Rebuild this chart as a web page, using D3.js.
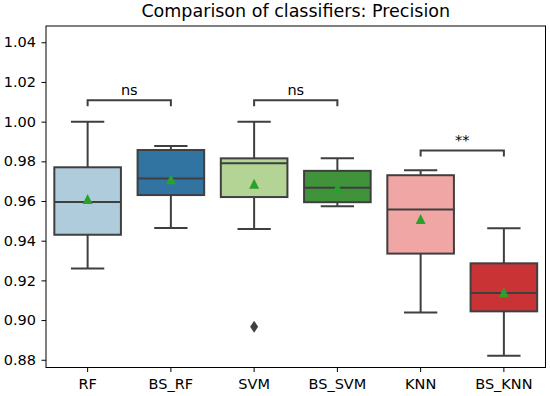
<!DOCTYPE html>
<meta charset="utf-8">
<title>Comparison of classifiers: Precision</title>
<style>
body {
  margin: 0;
  background: white;
  font-family: 'DejaVu Sans', sans-serif;
}
</style>
<svg></svg>
<script src="https://d3js.org/d3.v7.min.js"></script>
<script>
var classifiers = ["RF", "BS_RF", "SVM", "BS_SVM", "KNN", "BS_KNN"];
var colors = ["#a6cee3", "#1f78b4", "#b2df8a", "#33a02c", "#fb9a99", "#e31a1c"];
var whiskerLow = [0.926, 0.9464, 0.9459, 0.9574, 0.9038, 0.882];
var q1 = [0.943, 0.963, 0.962, 0.9594, 0.9335, 0.9044];
var median = [0.9595, 0.9714, 0.979, 0.9667, 0.9557, 0.9136];
var q3 = [0.977, 0.9857, 0.9815, 0.9752, 0.973, 0.9286];
var whiskerHigh = [1.0, 0.9877, 1.0, 0.9815, 0.9755, 0.9463];
var means = [0.961, 0.971, 0.9687, 0.9667, 0.951, 0.914];
var outliers = [[], [], [0.8966], [], [], []];
var yTicks = [0.88, 0.90, 0.92, 0.94, 0.96, 0.98, 1.00, 1.02, 1.04];
// pairs compared, bracket height, label
var pairs = [
  {a: "RF", b: "BS_RF", y: 1.0108, label: "ns"},
  {a: "SVM", b: "BS_SVM", y: 1.0108, label: "ns"},
  {a: "KNN", b: "BS_KNN", y: 0.9855, label: "**"}
];

var width = 550, height = 396,
    margin = {top: 26, right: 4.5, bottom: 28.5, left: 46};

var svg = d3.select("svg")
    .attr("width", width)
    .attr("height", height);

var x = d3.scaleBand()
    .domain(classifiers)
    .range([margin.left, width - margin.right]);

var y = d3.scaleLinear()
    .domain([0.8761, 1.0482])
    .range([height - margin.bottom, margin.top]);

var edge = "#3f3f3f";
var boxW = x.bandwidth() * 0.8;

function desat(c) {
  var h = d3.hsl(c);
  h.s *= 0.75;
  return h.formatHex();
}

var data = classifiers.map(function(c, i) {
  return {name: c, color: desat(colors[i]), lo: whiskerLow[i], q1: q1[i], med: median[i],
          q3: q3[i], hi: whiskerHigh[i], mean: means[i], out: outliers[i]};
});

// axes
svg.append("g")
    .attr("transform", "translate(0," + (height - margin.bottom) + ")")
    .call(d3.axisBottom(x).tickSize(4.5).tickPadding(7))
    .call(function(g) { g.select(".domain").remove(); });

svg.append("g")
    .attr("transform", "translate(" + margin.left + ",0)")
    .call(d3.axisLeft(y).tickValues(yTicks).tickFormat(d3.format(".2f")).tickSize(4.5).tickPadding(5.5))
    .call(function(g) { g.select(".domain").remove(); });

svg.selectAll(".tick text")
    .attr("font-family", "'DejaVu Sans', sans-serif")
    .attr("font-size", 14.5)
    .attr("fill", "#000");
svg.selectAll(".tick line").attr("stroke", "#000").attr("stroke-width", 1);

var box = svg.append("g").selectAll("g")
  .data(data)
  .enter().append("g")
    .attr("transform", function(d) { return "translate(" + (x(d.name) + x.bandwidth() / 2) + ",0)"; });

box.append("line")
    .attr("y1", function(d) { return y(d.lo); })
    .attr("y2", function(d) { return y(d.q1); })
    .attr("stroke", edge).attr("stroke-width", 2);
box.append("line")
    .attr("y1", function(d) { return y(d.q3); })
    .attr("y2", function(d) { return y(d.hi); })
    .attr("stroke", edge).attr("stroke-width", 2);
box.selectAll(".cap")
  .data(function(d) { return [d.lo, d.hi]; })
  .enter().append("line")
    .attr("x1", -boxW / 4).attr("x2", boxW / 4)
    .attr("y1", function(v) { return y(v); })
    .attr("y2", function(v) { return y(v); })
    .attr("stroke", edge).attr("stroke-width", 2);

box.append("rect")
    .attr("x", -boxW / 2)
    .attr("width", boxW)
    .attr("y", function(d) { return y(d.q3); })
    .attr("height", function(d) { return y(d.q1) - y(d.q3); })
    .attr("fill", function(d) { return d.color; })
    .attr("stroke", edge).attr("stroke-width", 2);

box.append("line")
    .attr("x1", -boxW / 2).attr("x2", boxW / 2)
    .attr("y1", function(d) { return y(d.med); })
    .attr("y2", function(d) { return y(d.med); })
    .attr("stroke", edge).attr("stroke-width", 2);

// mean marker (matplotlib "^")
box.append("path")
    .attr("transform", function(d) { return "translate(0," + y(d.mean) + ")"; })
    .attr("d", "M0,-5L5,5L-5,5Z")
    .attr("fill", "#2ca02c");

// fliers (matplotlib "d")
box.selectAll(".out")
  .data(function(d) { return d.out; })
  .enter().append("path")
    .attr("transform", function(v) { return "translate(0," + y(v) + ")"; })
    .attr("d", "M0,-6L4,0L0,6L-4,0Z")
    .attr("fill", edge);

// frame
svg.append("rect")
    .attr("x", margin.left).attr("y", margin.top)
    .attr("width", width - margin.left - margin.right)
    .attr("height", height - margin.top - margin.bottom)
    .attr("fill", "none").attr("stroke", "#000").attr("stroke-width", 1);

// significance brackets
var br = svg.append("g").selectAll("g").data(pairs).enter().append("g");
br.append("path")
    .attr("d", function(p) {
      var x1 = x(p.a) + x.bandwidth() / 2, x2 = x(p.b) + x.bandwidth() / 2, yy = y(p.y);
      return "M" + x1 + "," + (yy + 6) + "V" + yy + "H" + x2 + "V" + (yy + 6);
    })
    .attr("fill", "none").attr("stroke", edge).attr("stroke-width", 2);
br.append("text")
    .attr("x", function(p) { return (x(p.a) + x(p.b) + x.bandwidth()) / 2; })
    .attr("y", function(p) { return y(p.y) - 5; })
    .attr("text-anchor", "middle")
    .attr("font-size", 14.5)
    .text(function(p) { return p.label; });

svg.append("text")
    .attr("x", (margin.left + width - margin.right) / 2)
    .attr("y", 17)
    .attr("text-anchor", "middle")
    .attr("font-size", 17.5)
    .text("Comparison of classifiers: Precision");
</script>
